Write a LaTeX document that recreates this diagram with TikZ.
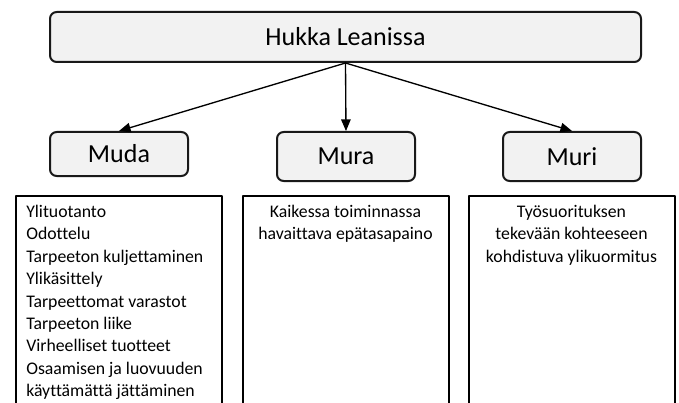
\documentclass[tikz,border=0pt]{standalone}
\usepackage{fontspec}
\setmainfont{Carlito}[Ligatures=CommonOff]
\usetikzlibrary{arrows}

\tikzset{
  wastebox/.style={draw=black!90, line width=1.5pt, rounded corners=5pt, fill=black!5,
    minimum width=103.5pt, inner sep=0pt, font=\fontsize{19.5}{23}\selectfont},
  listbox/.style={draw=black, line width=1.5pt, minimum width=154.5pt,
    minimum height=165pt, inner sep=0pt, anchor=north},
  listtext/.style={font=\fontsize{13.3}{16.8}\selectfont, inner sep=0pt},
}

\begin{document}
\begin{tikzpicture}[line cap=round,line join=round,>=triangle 45,x=0.75pt,y=-0.75pt]

\clip (0,0) rectangle (679,403);

\node[wastebox, minimum width=443.25pt, minimum height=37.5pt] (hukka) at (345.5,37) {Hukka Leanissa};
\node[wastebox, minimum height=33pt] (muda) at (119,154) {Muda};
\node[wastebox, minimum height=36.75pt] (mura) at (346,156.5) {Mura};
\node[wastebox, minimum height=36.75pt] (muri) at (572,156.5) {Muri};

\draw[->, line width=1pt] (hukka.south) -- (muda.north);
\draw[->, line width=1pt] (hukka.south) -- (mura.north);
\draw[->, line width=1pt] (hukka.south) -- (muri.north);

\node[listbox] (mudalist) at (119,195) {};
\node[listbox] (muralist) at (345.5,195) {};
\node[listbox] (murilist) at (571.5,195) {};

\node[listtext, anchor=north west, align=left] (mudatext) at ([shift={(11,10)}]mudalist.north west)
  {Ylituotanto\\Odottelu\\Tarpeeton kuljettaminen\\Ylikäsittely\\Tarpeettomat varastot\\Tarpeeton liike\\Virheelliset tuotteet\\Osaamisen ja luovuuden\\käyttämättä jättäminen};
\node[listtext, anchor=north, align=center] (muratext) at ([shift={(0,10)}]muralist.north)
  {Kaikessa toiminnassa\\havaittava epätasapaino};
\node[listtext, anchor=north, align=center] (muritext) at ([shift={(0,10)}]murilist.north)
  {Työsuorituksen\\tekevään kohteeseen\\kohdistuva ylikuormitus};

\end{tikzpicture}
\end{document}
